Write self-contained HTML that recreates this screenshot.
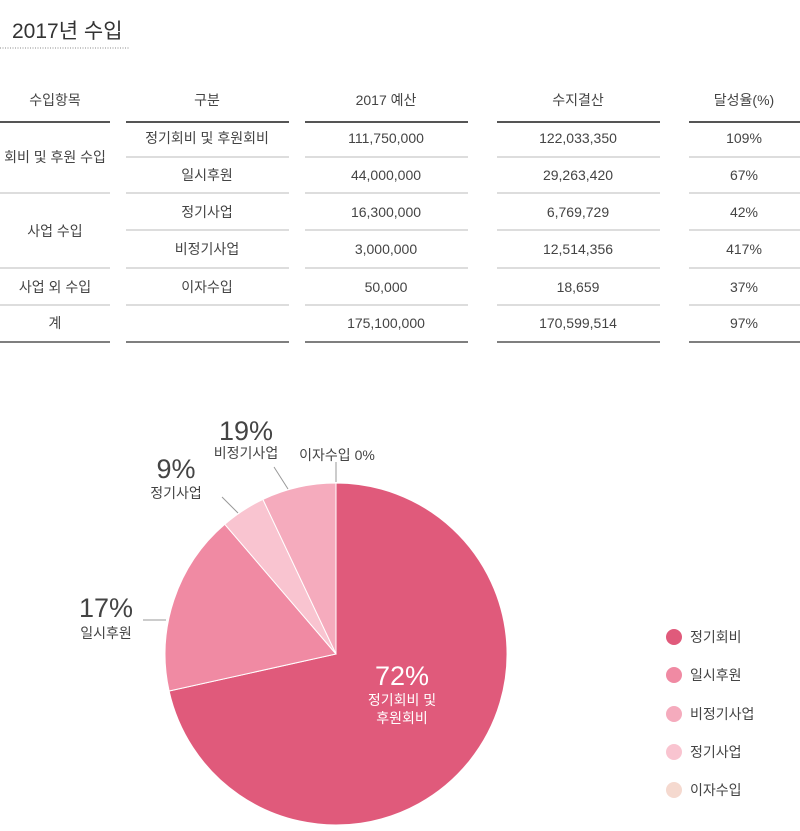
<!DOCTYPE html>
<html><head><meta charset="utf-8"><style>
body{margin:0;width:800px;height:826px;background:#fff;overflow:hidden;font-family:"Liberation Sans","Noto Sans CJK KR",sans-serif;color:#444}
svg text{font-family:"Liberation Sans","Noto Sans CJK KR",sans-serif}
</style></head><body>
<svg width="800" height="826" viewBox="0 0 800 826" xmlns="http://www.w3.org/2000/svg">
<text x="12" y="38" font-size="21" fill="#333">2017년 수입</text>
<line x1="0" y1="48" x2="129" y2="48" stroke="#888" stroke-dasharray="1,1.5"/>
<g font-size="14" fill="#444" text-anchor="middle">
<text x="55" y="105">수입항목</text><text x="207" y="105">구분</text><text x="386" y="105">2017 예산</text><text x="578" y="105">수지결산</text><text x="744" y="105">달성율(%)</text>
<g stroke="#555" stroke-width="2"><line x1="0" y1="122" x2="110" y2="122"/><line x1="126" y1="122" x2="289" y2="122"/><line x1="305" y1="122" x2="468" y2="122"/><line x1="497" y1="122" x2="660" y2="122"/><line x1="689" y1="122" x2="800" y2="122"/></g>
<g stroke="#bbb" stroke-width="1">
<line x1="126" y1="157" x2="289" y2="157"/><line x1="305" y1="157" x2="468" y2="157"/><line x1="497" y1="157" x2="660" y2="157"/><line x1="689" y1="157" x2="800" y2="157"/>
<line x1="0" y1="193" x2="110" y2="193"/><line x1="126" y1="193" x2="289" y2="193"/><line x1="305" y1="193" x2="468" y2="193"/><line x1="497" y1="193" x2="660" y2="193"/><line x1="689" y1="193" x2="800" y2="193"/>
<line x1="126" y1="230" x2="289" y2="230"/><line x1="305" y1="230" x2="468" y2="230"/><line x1="497" y1="230" x2="660" y2="230"/><line x1="689" y1="230" x2="800" y2="230"/>
<line x1="0" y1="268" x2="110" y2="268"/><line x1="126" y1="268" x2="289" y2="268"/><line x1="305" y1="268" x2="468" y2="268"/><line x1="497" y1="268" x2="660" y2="268"/><line x1="689" y1="268" x2="800" y2="268"/>
<line x1="0" y1="305" x2="110" y2="305"/><line x1="126" y1="305" x2="289" y2="305"/><line x1="305" y1="305" x2="468" y2="305"/><line x1="497" y1="305" x2="660" y2="305"/><line x1="689" y1="305" x2="800" y2="305"/>
</g>
<g stroke="#555" stroke-width="1.5"><line x1="0" y1="342" x2="110" y2="342"/><line x1="126" y1="342" x2="289" y2="342"/><line x1="305" y1="342" x2="468" y2="342"/><line x1="497" y1="342" x2="660" y2="342"/><line x1="689" y1="342" x2="800" y2="342"/></g>
<text x="55" y="162">회비 및 후원 수입</text><text x="55" y="236">사업 수입</text><text x="55" y="292">사업 외 수입</text><text x="55" y="328">계</text>
<text x="207" y="143">정기회비 및 후원회비</text><text x="207" y="180">일시후원</text><text x="207" y="217">정기사업</text><text x="207" y="254">비정기사업</text><text x="207" y="292">이자수입</text>
<text x="386" y="143">111,750,000</text><text x="386" y="180">44,000,000</text><text x="386" y="217">16,300,000</text><text x="386" y="254">3,000,000</text><text x="386" y="292">50,000</text><text x="386" y="328">175,100,000</text>
<text x="578" y="143">122,033,350</text><text x="578" y="180">29,263,420</text><text x="578" y="217">6,769,729</text><text x="578" y="254">12,514,356</text><text x="578" y="292">18,659</text><text x="578" y="328">170,599,514</text>
<text x="744" y="143">109%</text><text x="744" y="180">67%</text><text x="744" y="217">42%</text><text x="744" y="254">417%</text><text x="744" y="292">37%</text><text x="744" y="328">97%</text>
</g>
<g stroke="#fff" stroke-width="1">
<path d="M336,654 L336,483 A171,171 0 1,1 169.1,691.0 Z" fill="#e05a7b"/>
<path d="M336,654 L169.1,691.0 A171,171 0 0,1 224.8,524.3 Z" fill="#f08aa3"/>
<path d="M336,654 L224.8,524.3 A171,171 0 0,1 262.9,499.4 Z" fill="#f9c4d0"/>
<path d="M336,654 L262.9,499.4 A171,171 0 0,1 336,483 Z" fill="#f5abbd"/>
</g>
<g stroke="#999" stroke-width="1"><line x1="143" y1="620" x2="166" y2="620"/><line x1="222" y1="497" x2="238" y2="513"/><line x1="274" y1="467" x2="288" y2="489"/><line x1="336" y1="462" x2="336" y2="482"/></g>
<g fill="#444" text-anchor="middle">
<text x="246" y="440" font-size="27">19%</text><text x="246" y="458" font-size="14">비정기사업</text>
<text x="337" y="460" font-size="14">이자수입 0%</text>
<text x="176" y="478" font-size="27">9%</text><text x="176" y="498" font-size="14">정기사업</text>
<text x="106" y="617" font-size="27">17%</text><text x="106" y="638" font-size="14">일시후원</text>
</g>
<g fill="#fff" text-anchor="middle"><text x="402" y="685" font-size="27">72%</text><text x="402" y="705" font-size="14">정기회비 및</text><text x="402" y="723" font-size="14">후원회비</text></g>
<circle cx="674" cy="637" r="8" fill="#e05a7b"/><circle cx="674" cy="675" r="8" fill="#f08aa3"/><circle cx="674" cy="714" r="8" fill="#f5abbd"/><circle cx="674" cy="752" r="8" fill="#f9c4d0"/><circle cx="674" cy="790" r="8" fill="#f5d9cf"/>
<g font-size="14" fill="#444"><text x="690" y="642">정기회비</text><text x="690" y="680">일시후원</text><text x="690" y="719">비정기사업</text><text x="690" y="757">정기사업</text><text x="690" y="795">이자수입</text></g>
</svg>
</body></html>
